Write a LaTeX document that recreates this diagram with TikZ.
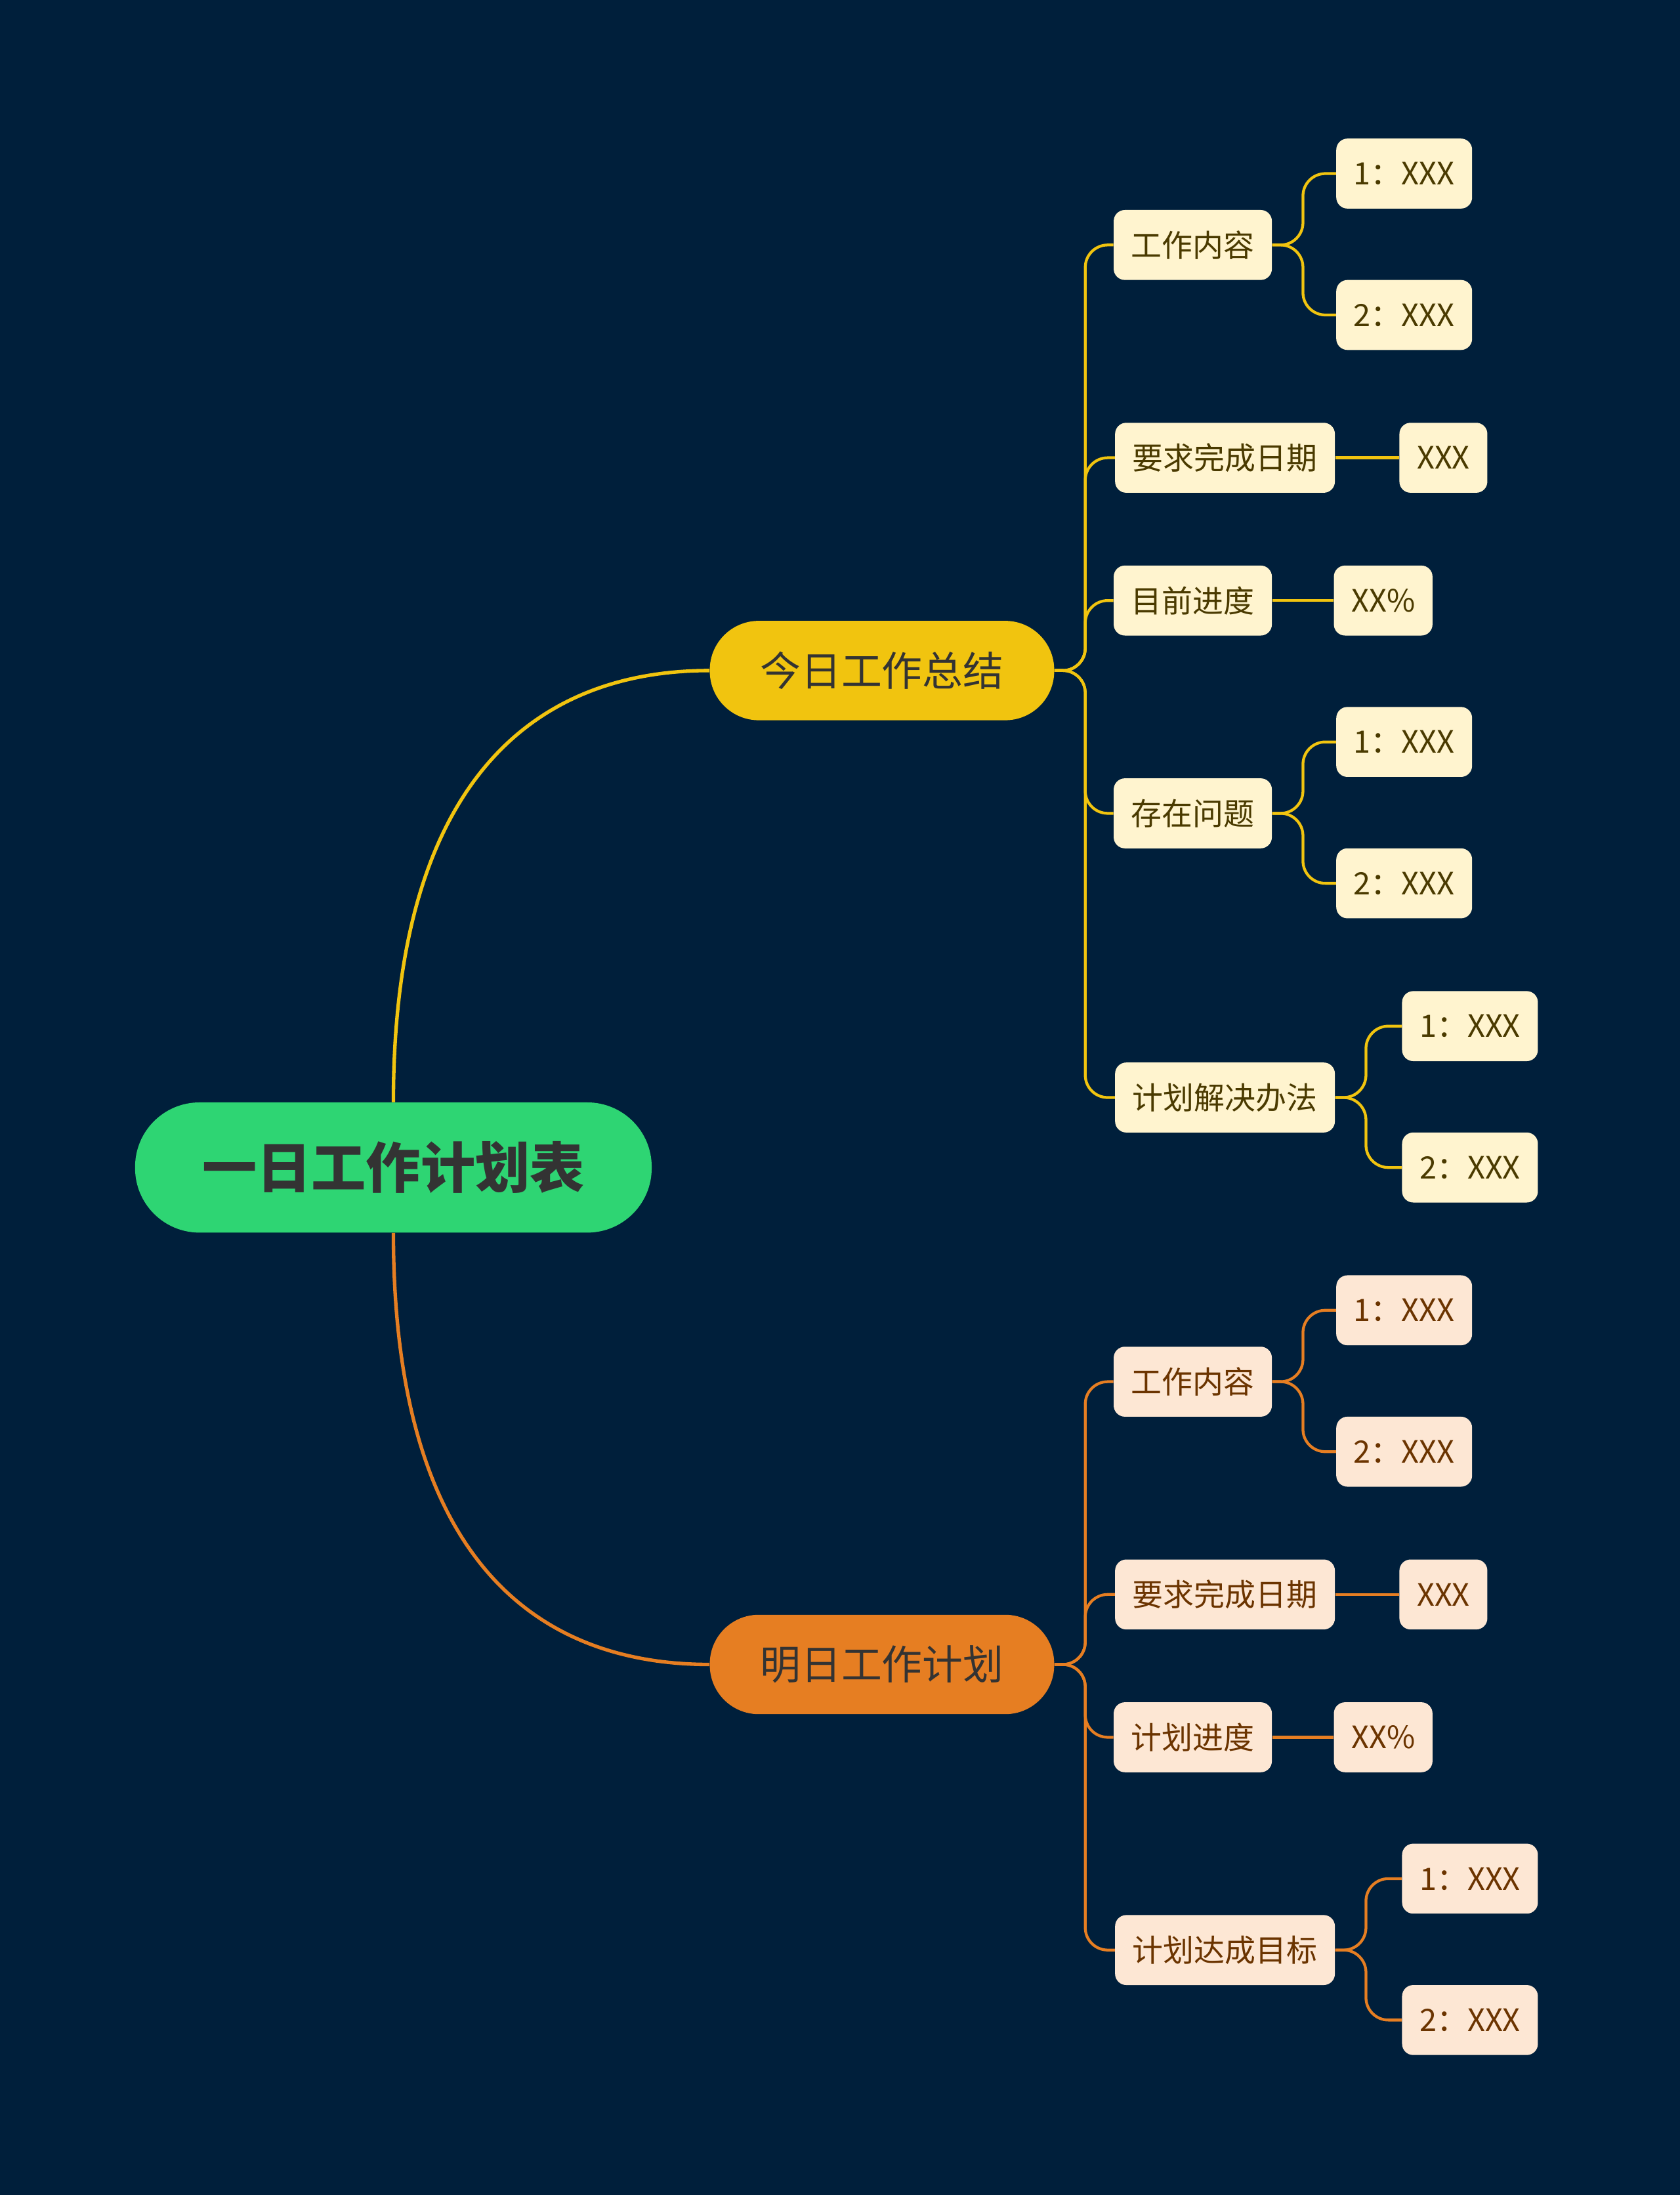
\documentclass[tikz,border=0pt]{standalone}
\usepackage{fontspec}
\setmainfont{Noto Sans CJK SC}
\begin{document}
\begin{tikzpicture}[x=1pt,y=-1pt,
  leafa/.style={rounded corners=8pt,fill=lfa,text=tya,minimum height=50pt,inner xsep=12.5pt,font=\fontsize{22}{26}\selectfont},
  leafb/.style={rounded corners=8pt,fill=lfb,text=tyb,minimum height=50pt,inner xsep=12.5pt,font=\fontsize{22}{26}\selectfont},
  ya/.style={draw=cya,line width=2pt,rounded corners=16pt},
  yb/.style={draw=cyb,line width=2pt,rounded corners=16pt}]
\definecolor{bg}{HTML}{001F3B}
\definecolor{cya}{HTML}{F1C40F}
\definecolor{cyb}{HTML}{E67E22}
\definecolor{lfa}{HTML}{FFF4CF}
\definecolor{lfb}{HTML}{FDE7D4}
\definecolor{tya}{HTML}{4A3A00}
\definecolor{tyb}{HTML}{6B3400}
\definecolor{rootc}{HTML}{2ED573}
\fill[bg] (0,0) rectangle (1200,1568);
\useasboundingbox (0,0) rectangle (1200,1568);
\node[fill=rootc,rounded corners=46pt,minimum width=369pt,minimum height=93pt,text=black!80,font=\fontsize{39}{42}\selectfont\bfseries] (root) at (281,834) {一日工作计划表};
\node[fill=cya,rounded corners=35pt,minimum width=246pt,minimum height=71pt,text=black!80,font=\fontsize{29}{32}\selectfont] (b1) at (630,479) {今日工作总结};
\node[fill=cyb,rounded corners=35pt,minimum width=246pt,minimum height=71pt,text=black!80,font=\fontsize{29}{32}\selectfont] (b2) at (630,1189) {明日工作计划};
\draw[cya,line width=2.5pt] (root.north) .. controls (281,560) and (380,479) .. (b1.west);
\draw[cyb,line width=2.5pt] (root.south) .. controls (281,1110) and (380,1189) .. (b2.west);
% top
\node[leafa] (a1) at (852,175) {工作内容};
\node[leafa] (a2) at (875,327) {要求完成日期};
\node[leafa] (a3) at (852,429) {目前进度};
\node[leafa] (a4) at (852,581) {存在问题};
\node[leafa] (a5) at (875,784) {计划解决办法};
\node[leafa] (a11) at (1003,124) {1：XXX};
\node[leafa] (a12) at (1003,225) {2：XXX};
\node[leafa] (a21) at (1031,327) {XXX};
\node[leafa] (a31) at (988,429) {XX\%};
\node[leafa] (a41) at (1003,530) {1：XXX};
\node[leafa] (a42) at (1003,631) {2：XXX};
\node[leafa] (a51) at (1050,733) {1：XXX};
\node[leafa] (a52) at (1050,834) {2：XXX};
\foreach \c in {a1,a2,a3,a4,a5}{\draw[ya] (b1.east) -- ++(22,0) |- (\c.west);}
\foreach \p/\c in {a1/a11,a1/a12,a4/a41,a4/a42,a5/a51,a5/a52}{\draw[ya] (\p.east) -- ++(22,0) |- (\c.west);}
\draw[ya] (a2.east) -- (a21.west);
\draw[ya] (a3.east) -- (a31.west);
% bottom
\node[leafb] (c1) at (852,987) {工作内容};
\node[leafb] (c2) at (875,1139) {要求完成日期};
\node[leafb] (c3) at (852,1241) {计划进度};
\node[leafb] (c4) at (875,1393) {计划达成目标};
\node[leafb] (c11) at (1003,936) {1：XXX};
\node[leafb] (c12) at (1003,1037) {2：XXX};
\node[leafb] (c21) at (1031,1139) {XXX};
\node[leafb] (c31) at (988,1241) {XX\%};
\node[leafb] (c41) at (1050,1342) {1：XXX};
\node[leafb] (c42) at (1050,1443) {2：XXX};
\foreach \c in {c1,c2,c3,c4}{\draw[yb] (b2.east) -- ++(22,0) |- (\c.west);}
\foreach \p/\c in {c1/c11,c1/c12,c4/c41,c4/c42}{\draw[yb] (\p.east) -- ++(22,0) |- (\c.west);}
\draw[yb] (c2.east) -- (c21.west);
\draw[yb] (c3.east) -- (c31.west);
\end{tikzpicture}
\end{document}
